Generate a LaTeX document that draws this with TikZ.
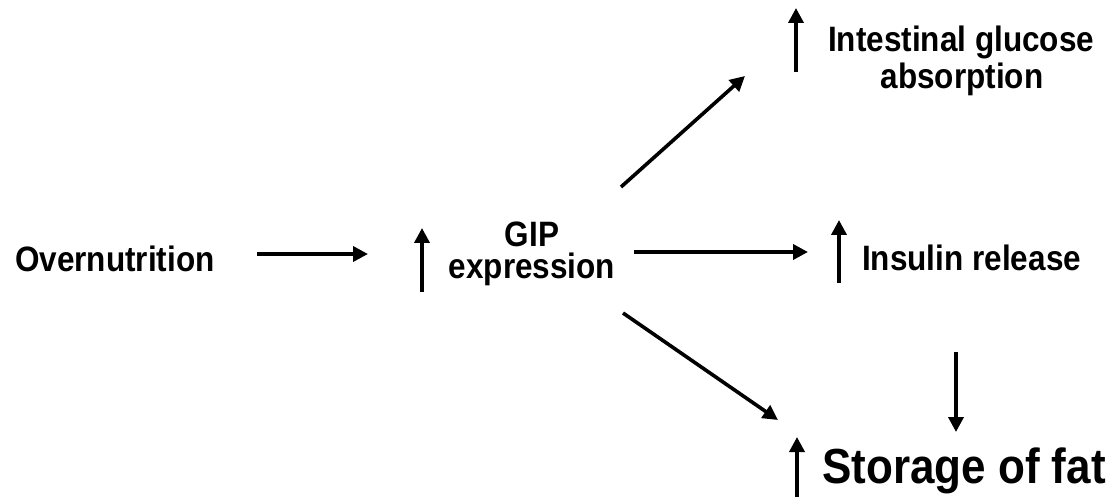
\documentclass[tikz,border=0pt]{standalone}
\usepackage{graphicx}
\usepackage{fontspec}
\setmainfont{Liberation Sans}
\usetikzlibrary{arrows.meta}
% bold text, slightly stretched in height
\newcommand{\tallbf}[1]{\scalebox{1}[1.12]{#1}}
\begin{document}
\begin{tikzpicture}[x=1pt,y=-1pt,
  lbl/.style={font=\bfseries\fontsize{31.5}{36}\selectfont, anchor=base, inner sep=0pt},
  big/.style={font=\bfseries\fontsize{44}{50}\selectfont, anchor=base west, inner sep=0pt},
  arr/.style={line width=3.6pt, -{Triangle[length=15pt,width=15pt]}}]
\useasboundingbox (0,0) rectangle (1112,497);

% labels
\node[lbl,anchor=base west] (over) at (15,272) {\tallbf{Overnutrition}};
\node[lbl] (gip) at (532,247) {\tallbf{GIP}};
\node[lbl] (expr) at (532,279) {\tallbf{expression}};
\node[lbl,anchor=base west] (intest) at (828,52) {\tallbf{Intestinal glucose}};
\node[lbl] (absorb) at (962,89) {\tallbf{absorption}};
\node[lbl,anchor=base west] (insulin) at (862,271) {\tallbf{Insulin release}};
\node[big] (fat) at (822,483) {\tallbf{Storage of fat}};

% arrow end points
\coordinate (onS) at (257,254);  \coordinate (onE) at (368,254);
\coordinate (giS) at (621,187);  \coordinate (giE) at (745,76);
\coordinate (gnS) at (634,252);  \coordinate (gnE) at (808,252);
\coordinate (gfS) at (623,313);  \coordinate (gfE) at (778,420);
\coordinate (nfS) at (956,352);  \coordinate (nfE) at (956,432);

% "increase" markers
\coordinate (u1S) at (422,292);  \coordinate (u1E) at (422,228);
\coordinate (u2S) at (796,72);   \coordinate (u2E) at (796,8);
\coordinate (u3S) at (839,283);  \coordinate (u3E) at (839,220);
\coordinate (u4S) at (797,500);  \coordinate (u4E) at (797,437);

\draw[arr] (onS) -- (onE);
\draw[arr] (giS) -- (giE);
\draw[arr] (gnS) -- (gnE);
\draw[arr] (gfS) -- (gfE);
\draw[arr] (nfS) -- (nfE);

\draw[arr] (u1S) -- (u1E);
\draw[arr] (u2S) -- (u2E);
\draw[arr] (u3S) -- (u3E);
\draw[arr] (u4S) -- (u4E);
\end{tikzpicture}
\end{document}
